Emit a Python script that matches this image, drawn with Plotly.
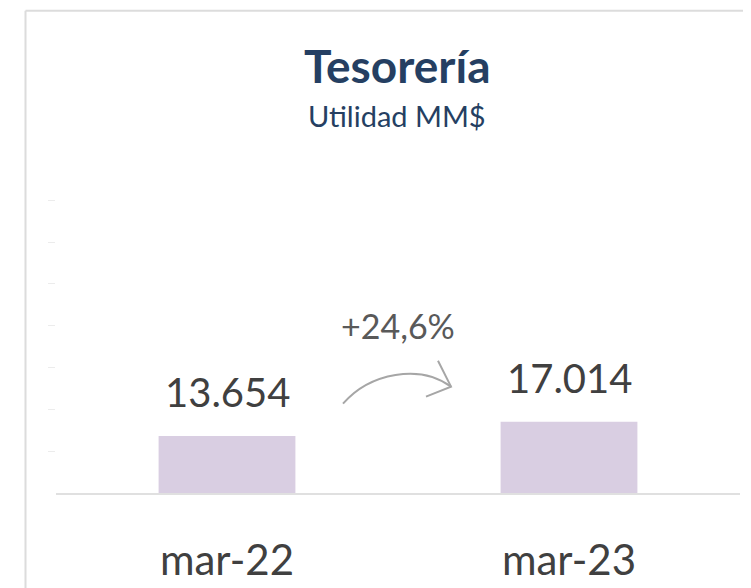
import plotly.graph_objects as go

# ---- data ----
categories = ["mar-22", "mar-23"]
values = [13654, 17014]
change_label = "+24,6%"
title_text = "Tesorería"
subtitle_text = "Utilidad MM$"
y_ticks = [10000, 20000, 30000, 40000, 50000, 60000, 70000]

# ---- layout constants (page offset of 8px from body margin) ----
OFF = 8
W, H = 751 - OFF, 588 - OFF
ML, MR, MT, MB = 56 - OFF, 11, 150 - OFF, 94.5
PW = W - ML - MR
PH = H - MT - MB
Y_MAX = 82000

def px(x):  # reference page x -> paper
    return (x - OFF - ML) / PW

def py(y):  # reference page y -> paper
    return (H - MB - (y - OFF)) / PH

NAVY = "#253f62"
BAR = "#d9cee2"
TXT = "#404040"
FONT = "Lato"

def fmt(v):
    return f"{v:,}".replace(",", ".")

fig = go.Figure()
fig.add_trace(go.Bar(
    x=categories, y=values,
    marker=dict(color=BAR, line=dict(width=0)),
    width=0.4, hoverinfo="skip",
))

annotations = []
for c, v in zip(categories, values):
    annotations.append(dict(
        x=c, y=v, xref="x", yref="y", text=fmt(v), showarrow=False,
        yanchor="middle", yshift=44,
        font=dict(family=FONT, size=40, color=TXT),
    ))

annotations += [
    dict(x=px(397), y=py(65), xref="paper", yref="paper", text=f"<b>{title_text}</b>",
         showarrow=False, yanchor="middle",
         font=dict(family=FONT, size=46, color=NAVY)),
    dict(x=px(397), y=py(115.5), xref="paper", yref="paper", text=subtitle_text,
         showarrow=False, yanchor="middle",
         font=dict(family=FONT, size=29, color=NAVY)),
    dict(x=px(398), y=py(326), xref="paper", yref="paper", text=change_label,
         showarrow=False, yanchor="middle",
         font=dict(family=FONT, size=34, color="#595959")),
]

GRAY_ARROW = "#a6a6a6"
FRAME = "#dcdcdc"

def P(x, y):
    return f"{px(x)},{py(y)}"

shapes = [
    # frame
    dict(type="line", xref="paper", yref="paper",
         x0=px(25.5), y0=py(10.5), x1=px(770), y1=py(10.5),
         line=dict(color=FRAME, width=2)),
    dict(type="line", xref="paper", yref="paper",
         x0=px(25.5), y0=py(10.5), x1=px(25.5), y1=py(620),
         line=dict(color=FRAME, width=2)),
    # curved arrow
    dict(type="path", xref="paper", yref="paper",
         path=f"M {P(343,404)} C {P(370,373)} {P(420,364)} {P(451,387)}",
         line=dict(color=GRAY_ARROW, width=2)),
    dict(type="path", xref="paper", yref="paper",
         path=f"M {P(438,361)} L {P(451,387)} L {P(426,397)}",
         line=dict(color=GRAY_ARROW, width=2)),
]

fig.update_layout(
    width=W, height=H,
    margin=dict(l=ML, r=MR, t=MT, b=MB, pad=0, autoexpand=False),
    paper_bgcolor="white", plot_bgcolor="white",
    showlegend=False,
    annotations=annotations, shapes=shapes,
    xaxis=dict(
        type="category", range=[-0.5, 1.5], automargin=False,
        showgrid=False, zeroline=False,
        showline=True, linecolor="#e0e0e0", linewidth=2,
        ticks="", ticklabelstandoff=30,
        tickfont=dict(family=FONT, size=42, color=TXT),
        fixedrange=True,
    ),
    yaxis=dict(
        range=[0, Y_MAX], automargin=False,
        showgrid=False, zeroline=False, showline=False,
        tickvals=y_ticks, showticklabels=False,
        ticks="outside", ticklen=7, tickcolor="#ececec", tickwidth=1,
        fixedrange=True,
    ),
)

fig.write_html("out.html")
